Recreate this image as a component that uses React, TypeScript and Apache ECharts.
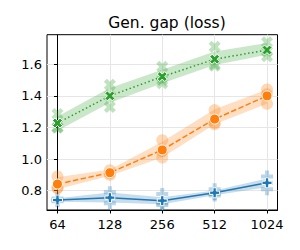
import React, { useEffect, useRef } from "react";
import * as echarts from "echarts";

// x positions: log2(n) - 6
const batchSizes = [64, 128, 256, 512, 1024];
const xPos = [0, 1, 2, 3, 4];
const yTicks = [0.8, 1.0, 1.2, 1.4, 1.6];

const blueMean = [0.741, 0.756, 0.737, 0.787, 0.85];
const blueLow = [0.73, 0.725, 0.715, 0.772, 0.822];
const blueHigh = [0.752, 0.788, 0.758, 0.802, 0.878];
const blueSeeds = [
  [0.75, 0.74, 0.733],
  [0.79, 0.757, 0.72],
  [0.78, 0.72, 0.71],
  [0.81, 0.78, 0.77],
  [0.89, 0.85, 0.81],
];

const orangeMean = [0.842, 0.914, 1.058, 1.253, 1.4];
const orangeLow = [0.81, 0.895, 1.01, 1.22, 1.35];
const orangeHigh = [0.885, 0.935, 1.11, 1.315, 1.44];
const orangeSeeds = [
  [0.89, 0.82, 0.815],
  [0.93, 0.91, 0.9],
  [1.12, 1.05, 1.01],
  [1.31, 1.23, 1.22],
  [1.44, 1.41, 1.35],
];

const greenMean = [1.228, 1.4, 1.522, 1.632, 1.69];
const greenLow = [1.18, 1.356, 1.48, 1.596, 1.66];
const greenHigh = [1.27, 1.45, 1.565, 1.68, 1.735];
const greenSeeds = [
  [1.285, 1.2, 1.2],
  [1.47, 1.4, 1.33],
  [1.585, 1.5, 1.48],
  [1.71, 1.6, 1.59],
  [1.74, 1.68, 1.65],
];

const BLUE = "#1f77b4";
const ORANGE = "#ff7f0e";
const GREEN = "#2ca02c";

const PLUS = "path://M1,0H2V1H3V2H2V3H1V2H0V1H1Z";
const XMARK = "path://M3,0L4,1L3,2L4,3L3,4L2,3L1,4L0,3L1,2L0,1L1,0L2,1Z";

function bandSeries(low: number[], high: number[], color: string) {
  return {
    type: "custom",
    silent: true,
    z: 1,
    data: [0],
    renderItem: (_params: any, api: any) => {
      const pts: number[][] = [];
      xPos.forEach((x, i) => pts.push(api.coord([x, high[i]])));
      for (let i = xPos.length - 1; i >= 0; i--) pts.push(api.coord([xPos[i], low[i]]));
      return {
        type: "polygon",
        shape: { points: pts },
        style: { fill: color, opacity: 0.25, stroke: "none" },
      };
    },
  };
}

function seedSeries(seeds: number[][], color: string, symbol: string, size: number) {
  const data: number[][] = [];
  seeds.forEach((arr, i) => arr.forEach((v) => data.push([xPos[i], v])));
  return {
    type: "scatter",
    z: 2,
    symbol,
    symbolSize: size,
    data,
    itemStyle: { color, opacity: 0.3 },
  };
}

function meanSeries(mean: number[], color: string, symbol: string, size: number, dash: any) {
  return {
    type: "line",
    z: 3,
    data: mean.map((v, i) => [xPos[i], v]),
    symbol,
    symbolSize: size,
    showSymbol: true,
    lineStyle: { color, width: 1.5, type: dash, cap: "butt" },
    itemStyle: { color, borderColor: "#ffffff", borderWidth: 1 },
  };
}

export default function App() {
  const ref = useRef<HTMLDivElement>(null);
  useEffect(() => {
    if (!ref.current) return;
    const chart = echarts.init(ref.current, undefined, { renderer: "svg" });
    const font = "DejaVu Sans";
    chart.setOption({
      animation: false,
      backgroundColor: "#ffffff",
      title: {
        text: "Gen. gap (loss)",
        left: 162,
        top: 10,
        textAlign: "center",
        textStyle: { fontFamily: font, fontSize: 15.5, fontWeight: "normal", color: "#000" },
      },
      grid: {
        left: 47,
        right: 22.5,
        top: 34.7,
        bottom: 40,
        show: true,
        borderColor: "#000",
        borderWidth: 1,
        backgroundColor: "transparent",
      },
      xAxis: {
        type: "value",
        min: -0.2,
        max: 4.2,
        axisLine: { show: true, lineStyle: { color: "#000", width: 1 } },
        axisTick: { show: true, length: 3.5, customValues: xPos, lineStyle: { color: "#000" } },
        axisLabel: {
          customValues: xPos,
          formatter: (v: number) => String(batchSizes[Math.round(v)]),
          fontFamily: font,
          fontSize: 13,
          color: "#000",
          margin: 8,
        },
        splitLine: { show: true, lineStyle: { color: "#e6e6e6", width: 1 } },
      },
      yAxis: {
        type: "value",
        min: 0.678,
        max: 1.787,
        axisLine: { show: true, lineStyle: { color: "#000", width: 1 } },
        axisTick: { show: true, length: 3.5, customValues: yTicks, lineStyle: { color: "#000" } },
        axisLabel: {
          customValues: yTicks,
          formatter: (v: number) => v.toFixed(1),
          fontFamily: font,
          fontSize: 13,
          color: "#000",
          margin: 5,
        },
        splitLine: { show: true, lineStyle: { color: "#e6e6e6", width: 1 } },
      },
      series: [
        bandSeries(blueLow, blueHigh, BLUE),
        seedSeries(blueSeeds, BLUE, PLUS, 12),
        meanSeries(blueMean, BLUE, PLUS, 10, "solid"),
        bandSeries(orangeLow, orangeHigh, ORANGE),
        seedSeries(orangeSeeds, ORANGE, "circle", 12),
        meanSeries(orangeMean, ORANGE, "circle", 10, [5.5, 2.4]),
        bandSeries(greenLow, greenHigh, GREEN),
        seedSeries(greenSeeds, GREEN, XMARK, 12),
        meanSeries(greenMean, GREEN, XMARK, 10, [1.5, 2.5]),
      ],
    });
    return () => chart.dispose();
  }, []);
  return (
    <div
      ref={ref}
      style={{ position: "fixed", left: 0, top: 0, width: 300, height: 250 }}
    />
  );
}
